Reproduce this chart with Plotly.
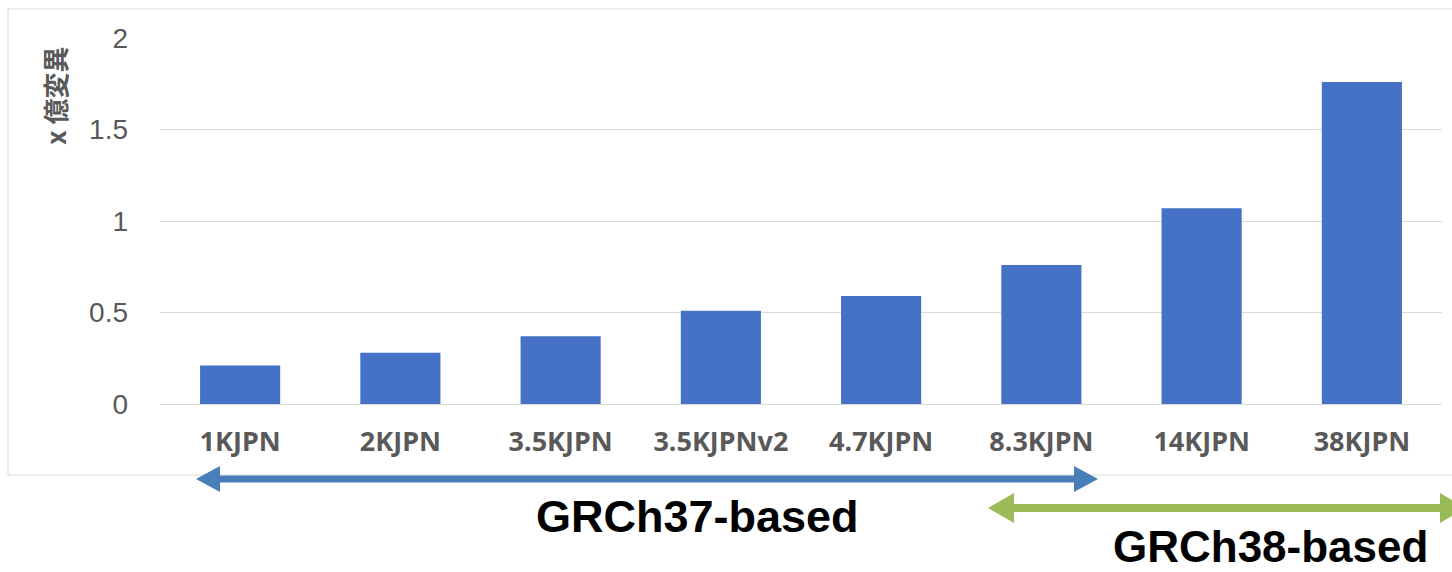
import plotly.graph_objects as go

categories = ["1KJPN", "2KJPN", "3.5KJPN", "3.5KJPNv2", "4.7KJPN", "8.3KJPN", "14KJPN", "38KJPN"]
values = [0.21, 0.28, 0.37, 0.51, 0.59, 0.76, 1.07, 1.76]
y_ticks = [0, 0.5, 1, 1.5, 2]
y_ticktext = ["0", "0.5", "1", "1.5", "2"]
y_title = "x 億変異"
group_labels = ["GRCh37-based", "GRCh38-based"]

W, H = 1452, 572
ML, MR, MT, MB = 160, 10, 38, 168
PW = W - ML - MR
PH = H - MT - MB


def px(x):
    return (x - ML) / PW


def py(y):
    return (H - MB - y) / PH


fig = go.Figure()
fig.add_trace(go.Bar(
    x=categories, y=values,
    marker=dict(color="#4571c6", line=dict(width=0)),
    width=0.5,
))

shapes = []
annotations = []

# frame
shapes.append(dict(type="rect", xref="paper", yref="paper",
                   x0=px(8), x1=px(1470), y0=py(475), y1=py(9),
                   line=dict(color="#d9d9d9", width=1), fillcolor="rgba(0,0,0,0)", layer="below"))


def arrow(x0, x1, y, color, lw, hl, hh):
    shapes.append(dict(type="line", xref="paper", yref="paper",
                       x0=px(x0 + hl - 1), x1=px(x1 - hl + 1), y0=py(y), y1=py(y),
                       line=dict(color=color, width=lw)))
    for tip, base in ((x0, x0 + hl), (x1, x1 - hl)):
        path = "M {a},{b} L {c},{d} L {e},{f} Z".format(
            a=px(tip), b=py(y), c=px(base), d=py(y - hh / 2), e=px(base), f=py(y + hh / 2))
        shapes.append(dict(type="path", xref="paper", yref="paper", path=path,
                           fillcolor=color, line=dict(color=color, width=0)))


arrow(196, 1098, 479, "#4a7ebb", 7, 24, 26)
arrow(988, 1466, 508, "#9bbb59", 8, 26, 30)

annotations.append(dict(xref="paper", yref="paper", x=px(697), y=py(516), text=group_labels[0],
                        showarrow=False, xanchor="center", yanchor="middle",
                        font=dict(family="Liberation Sans", size=45, color="#000000", weight="bold")))
annotations.append(dict(xref="paper", yref="paper", x=px(1270), y=py(546), text=group_labels[1],
                        showarrow=False, xanchor="center", yanchor="middle",
                        font=dict(family="Liberation Sans", size=44, color="#000000", weight="bold")))
annotations.append(dict(xref="paper", yref="paper", x=px(55), y=py(96), text=y_title,
                        showarrow=False, textangle=-90, xanchor="center", yanchor="middle",
                        font=dict(family="Noto Sans CJK JP", size=26, color="#595959", weight="bold")))

fig.update_layout(
    width=W, height=H,
    margin=dict(l=ML, r=MR, t=MT, b=MB, autoexpand=False),
    paper_bgcolor="white", plot_bgcolor="white",
    showlegend=False,
    bargap=0.5,
    shapes=shapes,
    annotations=annotations,
    xaxis=dict(
        type="category", showgrid=False, showline=False, zeroline=False, ticks="",
        tickfont=dict(family="Noto Sans", size=27, color="#595959", weight="bold"),
        ticklabelstandoff=19,
    ),
    yaxis=dict(
        range=[0, 2], tickvals=y_ticks, ticktext=y_ticktext,
        showgrid=True, gridcolor="#d9d9d9", gridwidth=1,
        zeroline=True, zerolinecolor="#d9d9d9", zerolinewidth=1,
        showline=False, ticks="",
        tickfont=dict(family="Liberation Sans", size=28, color="#595959"),
        ticklabelstandoff=31,
    ),
)

fig.write_html("out.html")
